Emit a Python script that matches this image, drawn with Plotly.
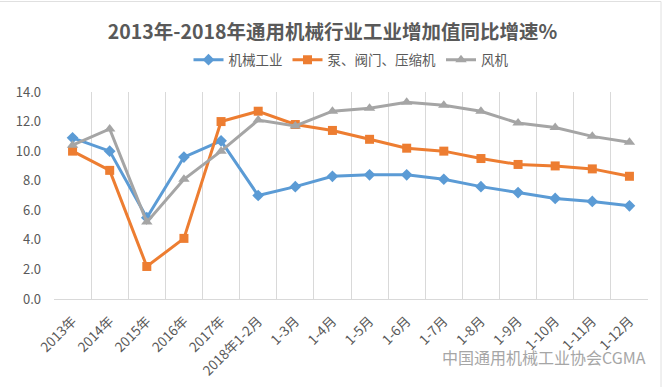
import plotly.graph_objects as go

categories = ["2013年", "2014年", "2015年", "2016年", "2017年", "2018年1-2月", "1-3月", "1-4月",
              "1-5月", "1-6月", "1-7月", "1-8月", "1-9月", "1-10月", "1-11月", "1-12月"]
machinery = [10.9, 10.0, 5.5, 9.6, 10.7, 7.0, 7.6, 8.3, 8.4, 8.4, 8.1, 7.6, 7.2, 6.8, 6.6, 6.3]
pumps = [10.0, 8.7, 2.2, 4.1, 12.0, 12.7, 11.8, 11.4, 10.8, 10.2, 10.0, 9.5, 9.1, 9.0, 8.8, 8.3]
fans = [10.4, 11.5, 5.2, 8.1, 10.0, 12.1, 11.7, 12.7, 12.9, 13.3, 13.1, 12.7, 11.9, 11.6, 11.0, 10.6]
series_names = ["机械工业", "泵、阀门、压缩机", "风机"]
y_ticks = [0, 2, 4, 6, 8, 10, 12, 14]

FONT = "Noto Sans CJK SC, Microsoft YaHei, sans-serif"
fig = go.Figure()
specs = [
    (machinery, series_names[0], "#5B9BD5", "diamond", 9),
    (pumps, series_names[1], "#ED7D31", "square", 9),
    (fans, series_names[2], "#A5A5A5", "triangle-up", 10),
]
for vals, name, color, sym, size in specs:
    fig.add_trace(go.Scatter(
        x=categories, y=vals, name=name, mode="lines+markers",
        line=dict(color=color, width=3),
        marker=dict(symbol=sym, size=size, color=color),
    ))

fig.update_layout(
    width=665, height=387,
    paper_bgcolor="white", plot_bgcolor="white",
    margin=dict(l=54, r=17, t=92, b=88, autoexpand=False),
    font=dict(family=FONT, color="#595959", size=11),
    title=dict(text="<b>2013年-2018年通用机械行业工业增加值同比增速%</b>",
               x=0.5, xanchor="center", y=1 - 32 / 387, yanchor="middle",
               font=dict(size=19.5, color="#595959", family=FONT)),
    legend=dict(orientation="h", x=0.5, xanchor="center", y=1.155, yanchor="middle",
                font=dict(size=13.5, color="#595959", family=FONT), itemwidth=30),
    showlegend=True,
)
fig.update_xaxes(
    type="category", tickson="boundaries", showgrid=True, gridcolor="#D9D9D9", gridwidth=1,
    showline=True, linecolor="#D9D9D9", linewidth=1, tickangle=-45, automargin=False,
    ticks="", tickfont=dict(size=13.5, color="#595959"), range=[-0.5, 15.5],
    ticklabelstandoff=8,
)
fig.update_yaxes(
    range=[0, 14], tickvals=y_ticks, tickformat=".1f", showgrid=False, automargin=False,
    zeroline=False, showline=False, tickfont=dict(size=13, color="#595959"),
    ticklabelstandoff=12,
)
fig.add_annotation(
    text="中国通用机械工业协会CGMA", xref="paper", yref="paper",
    x=1.0, y=-(357 - 299) / 207, xanchor="right", yanchor="middle", showarrow=False,
    font=dict(size=16, color="#A6A6A6", family=FONT),
)
fig.add_shape(type="rect", xref="paper", yref="paper",
              x0=(-2 - 54) / 594, x1=(661 - 54) / 594, y0=-0.6, y1=(299 - 1.5) / 207,
              line=dict(color="#E0E0E0", width=1), layer="below")
fig.write_html("out.html", post_script="document.body.style.margin='0';",
               config={"displayModeBar": False})
